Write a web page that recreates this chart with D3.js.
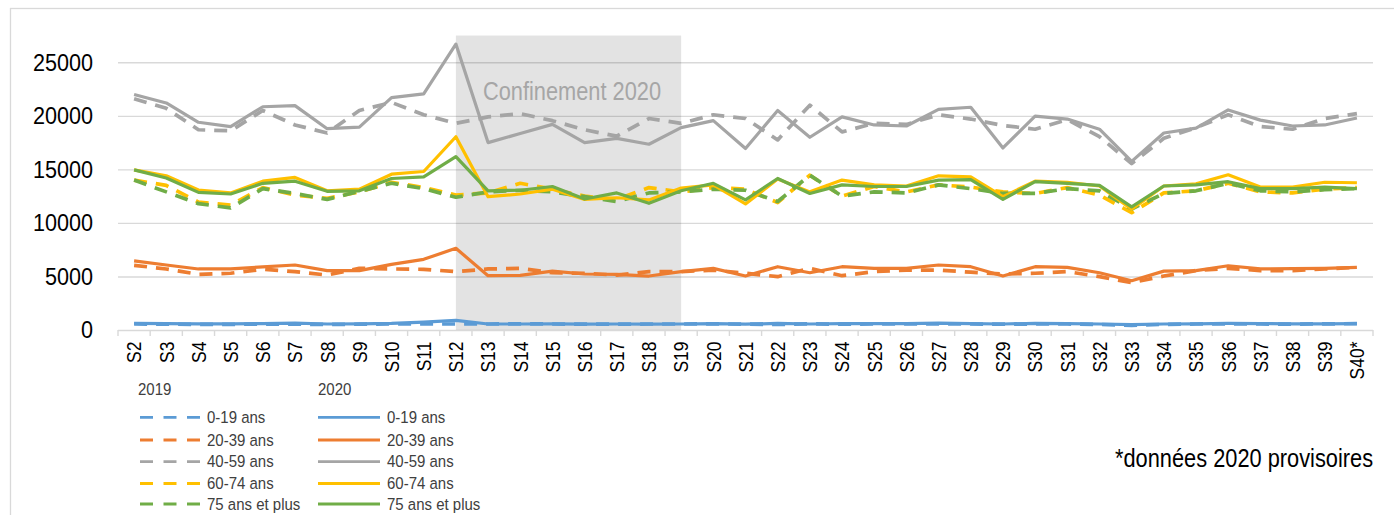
<!DOCTYPE html>
<html>
<head>
<meta charset="utf-8">
<script src="https://cdn.jsdelivr.net/npm/d3@7"></script>
<style>
    body { margin: 0; background: #fff; font-family: "Liberation Sans", Arial, sans-serif; }
</style>
</head>
<body>
<div id="chart"></div>
<script>
// semaines
const weeks = ['S2','S3','S4','S5','S6','S7','S8','S9','S10','S11','S12','S13','S14','S15','S16','S17','S18','S19','S20',
    'S21','S22','S23','S24','S25','S26','S27','S28','S29','S30','S31','S32','S33','S34','S35','S36','S37','S38','S39','S40*'];
const yTicks = [0, 5000, 10000, 15000, 20000, 25000];
const ageGroups = ['0-19 ans', '20-39 ans', '40-59 ans', '60-74 ans', '75 ans et plus'];
const colors = ['#5b9bd5', '#ed7d31', '#a5a5a5', '#ffc000', '#70ad47'];

// 2019 (pointillés)
const y2019_0019 = [560,540,530,530,550,540,520,540,560,560,560, 560,570,560,550,540,560,560,570,550,520,580,540,560,560,
    570,560,540,560,560,520,430,530,560,580,560,550,570,590];
const y2019_2039 = [6040,5700,5200,5300,5670,5450,5130,5760,5700,5670,5450, 5700,5760,5350,5300,5130,5450,5450,5600,5300,4980,5760,5070,5450,5600,
    5600,5400,5230,5300,5450,4980,4420,5040,5550,5760,5550,5550,5700,5850];
const y2019_4059 = [21600,20700,18700,18600,20500,19150,18400,20500,21250,20100,19300, 19900,20200,19550,18700,18100,19750,19300,20100,19750,17750,21000,18500,19300,19200,
    20100,19700,19100,18750,19650,18050,15550,17900,18900,20100,19000,18750,19750,20200];
const y2019_6074 = [14000,13500,11950,11670,13300,12600,12300,12900,13800,13300,12600, 12800,13700,13150,12500,12200,13300,12900,13300,13150,11900,14450,12500,13400,12900,
    13550,13350,12900,12750,13300,12600,10950,12800,13000,13700,12900,12800,13150,13300];
const y2019_75 = [14000,12900,11800,11400,13200,12750,12200,12950,13700,13200,12400, 12900,13050,12900,12450,12000,12800,12900,13150,13050,12000,14450,12500,12900,12800,
    13550,13200,12750,12750,13200,13000,11300,12750,13000,13700,13000,12900,13100,13200];

// 2020 (traits pleins)
const y2020_0019 = [620,600,580,580,600,650,560,580,620,730,900, 560,560,580,550,560,550,560,600,540,620,560,600,600,600,
    650,600,560,620,600,560,500,560,580,620,600,580,580,600];
const y2020_2039 = [6450,6070,5700,5700,5900,6070,5550,5550,6130,6600,7630, 5070,5100,5500,5230,5200,5040,5450,5760,5040,5910,5350,5910,5760,5760,
    6070,5910,5040,5910,5850,5350,4600,5500,5550,6000,5700,5730,5760,5850];
const y2020_4059 = [22000,21200,19400,19000,20850,20950,18800,18950,21700,22050,26700, 17500,18350,19200,17500,17900,17350,18900,19550,16950,20500,18000,19900,19150,19050,
    20600,20800,17000,19980,19700,18750,15750,18400,18850,20550,19600,19050,19150,19800];
const y2020_6074 = [14950,14400,13070,12800,13900,14250,13000,13150,14550,14800,18050, 12450,12700,13150,12200,12350,12150,13250,13550,11770,14100,12900,14000,13550,13450,
    14400,14300,12450,13900,13800,13450,11270,13450,13650,14500,13350,13350,13800,13750];
const y2020_75 = [14950,14200,12850,12700,13700,13900,12950,13000,14150,14300,16200, 13000,13050,13400,12230,12800,11830,13000,13700,12150,14150,12750,13550,13400,13400,
    14000,14050,12200,13850,13700,13500,11500,13450,13550,13850,13200,13200,13350,13200];

const series2019 = [y2019_0019, y2019_2039, y2019_4059, y2019_6074, y2019_75];
const series2020 = [y2020_0019, y2020_2039, y2020_4059, y2020_6074, y2020_75];

// période de confinement
const confStart = 'S12';
const confEnd = 'S19';
const confTop = 27500;

const W = 1394, H = 515;
const svg = d3.select('#chart').append('svg').attr('width', W).attr('height', H);

// cadre du graphique
svg.append('rect')
    .attr('x', 10.5).attr('y', 8.5)
    .attr('width', W + 20).attr('height', H + 20)
    .attr('fill', 'none').attr('stroke', '#d9d9d9').attr('stroke-width', 1.3);

const x = d3.scaleBand().domain(weeks).range([118, 1373]);
const bw = x.bandwidth();
const y = d3.scaleLinear().domain([0, 25000]).range([330, 62.3]);
const cx = w => x(w) + bw / 2;

// grille + axe Y
const yAxis = svg.append('g')
    .call(d3.axisLeft(y).tickValues(yTicks).tickSize(-(1373 - 118)).tickPadding(25).tickFormat(d3.format('d')))
    .attr('transform', 'translate(118,0)');
yAxis.select('.domain').remove();
yAxis.selectAll('line').attr('stroke', '#d9d9d9').attr('stroke-width', 1.4);
yAxis.selectAll('text')
    .attr('font-size', '21.6px')
    .attr('font-family', '"Liberation Sans", Arial, sans-serif')
    .attr('fill', '#000')
    .attr('transform', 'scale(1,1.14)');

// petits traits de l'axe X aux limites des catégories
const boundaries = weeks.map(w => x(w)).concat([x.range()[1]]);
svg.append('g').selectAll('line').data(boundaries).join('line')
    .attr('x1', d => d).attr('x2', d => d)
    .attr('y1', y(0)).attr('y2', y(0) + 6)
    .attr('stroke', '#d9d9d9').attr('stroke-width', 1.4);

// zone confinement
svg.append('rect')
    .attr('x', cx(confStart)).attr('y', y(confTop))
    .attr('width', cx(confEnd) - cx(confStart))
    .attr('height', y(0) - y(confTop))
    .attr('fill', '#000').attr('fill-opacity', 0.11);

svg.append('text')
    .attr('transform', 'translate(483,100) scale(1,1.18)')
    .attr('font-size', '21.8px')
    .attr('fill', '#a6a6a6')
    .text('Confinement 2020');

// axe X (étiquettes)
const xAxis = svg.append('g')
    .attr('transform', 'translate(0,' + y(0) + ')')
    .call(d3.axisBottom(x).tickSize(0));
xAxis.select('.domain').remove();
xAxis.selectAll('text')
    .attr('x', 0).attr('y', 0).attr('dy', '0.35em')
    .attr('text-anchor', 'end')
    .attr('font-size', '17.5px')
    .attr('font-family', '"Liberation Sans", Arial, sans-serif')
    .attr('fill', '#000')
    .attr('transform', 'translate(0,11.5) rotate(-90) scale(1,1.2)');

// courbes
const line = d3.line()
    .x((d, i) => cx(weeks[i]))
    .y(d => y(d));

svg.append('g').selectAll('path').data(series2019).join('path')
    .attr('d', line)
    .attr('fill', 'none')
    .attr('stroke', (d, i) => colors[i])
    .attr('stroke-width', 3.7)
    .attr('stroke-dasharray', '13,9')
    .attr('stroke-linejoin', 'round');

svg.append('g').selectAll('path').data(series2020).join('path')
    .attr('d', line)
    .attr('fill', 'none')
    .attr('stroke', (d, i) => colors[i])
    .attr('stroke-width', 3.2)
    .attr('stroke-linejoin', 'round');

// légende
const legendYs = [417.3, 440, 461.7, 483.5, 504];
const legend = svg.append('g')
    .attr('font-size', '15px')
    .attr('fill', '#404040');

legend.append('text').attr('transform', 'translate(138,395) scale(1,1.1)').text('2019');
legend.append('text').attr('transform', 'translate(318,395) scale(1,1.1)').text('2020');

ageGroups.forEach((label, i) => {
    const ly = legendYs[i];
    legend.append('line')
        .attr('x1', 140).attr('x2', 202).attr('y1', ly).attr('y2', ly)
        .attr('stroke', colors[i]).attr('stroke-width', 2.8)
        .attr('stroke-dasharray', '13,10.5');
    legend.append('text')
        .attr('transform', 'translate(207,' + (ly + 5.5) + ') scale(1,1.1)')
        .text(label);
    legend.append('line')
        .attr('x1', 318).attr('x2', 380).attr('y1', ly).attr('y2', ly)
        .attr('stroke', colors[i]).attr('stroke-width', 2.8);
    legend.append('text')
        .attr('transform', 'translate(387,' + (ly + 5.5) + ') scale(1,1.1)')
        .text(label);
});

svg.append('text')
    .attr('transform', 'translate(1115,467) scale(1,1.15)')
    .attr('font-size', '21.8px')
    .attr('fill', '#000')
    .text('*données 2020 provisoires');
</script>
</body>
</html>
